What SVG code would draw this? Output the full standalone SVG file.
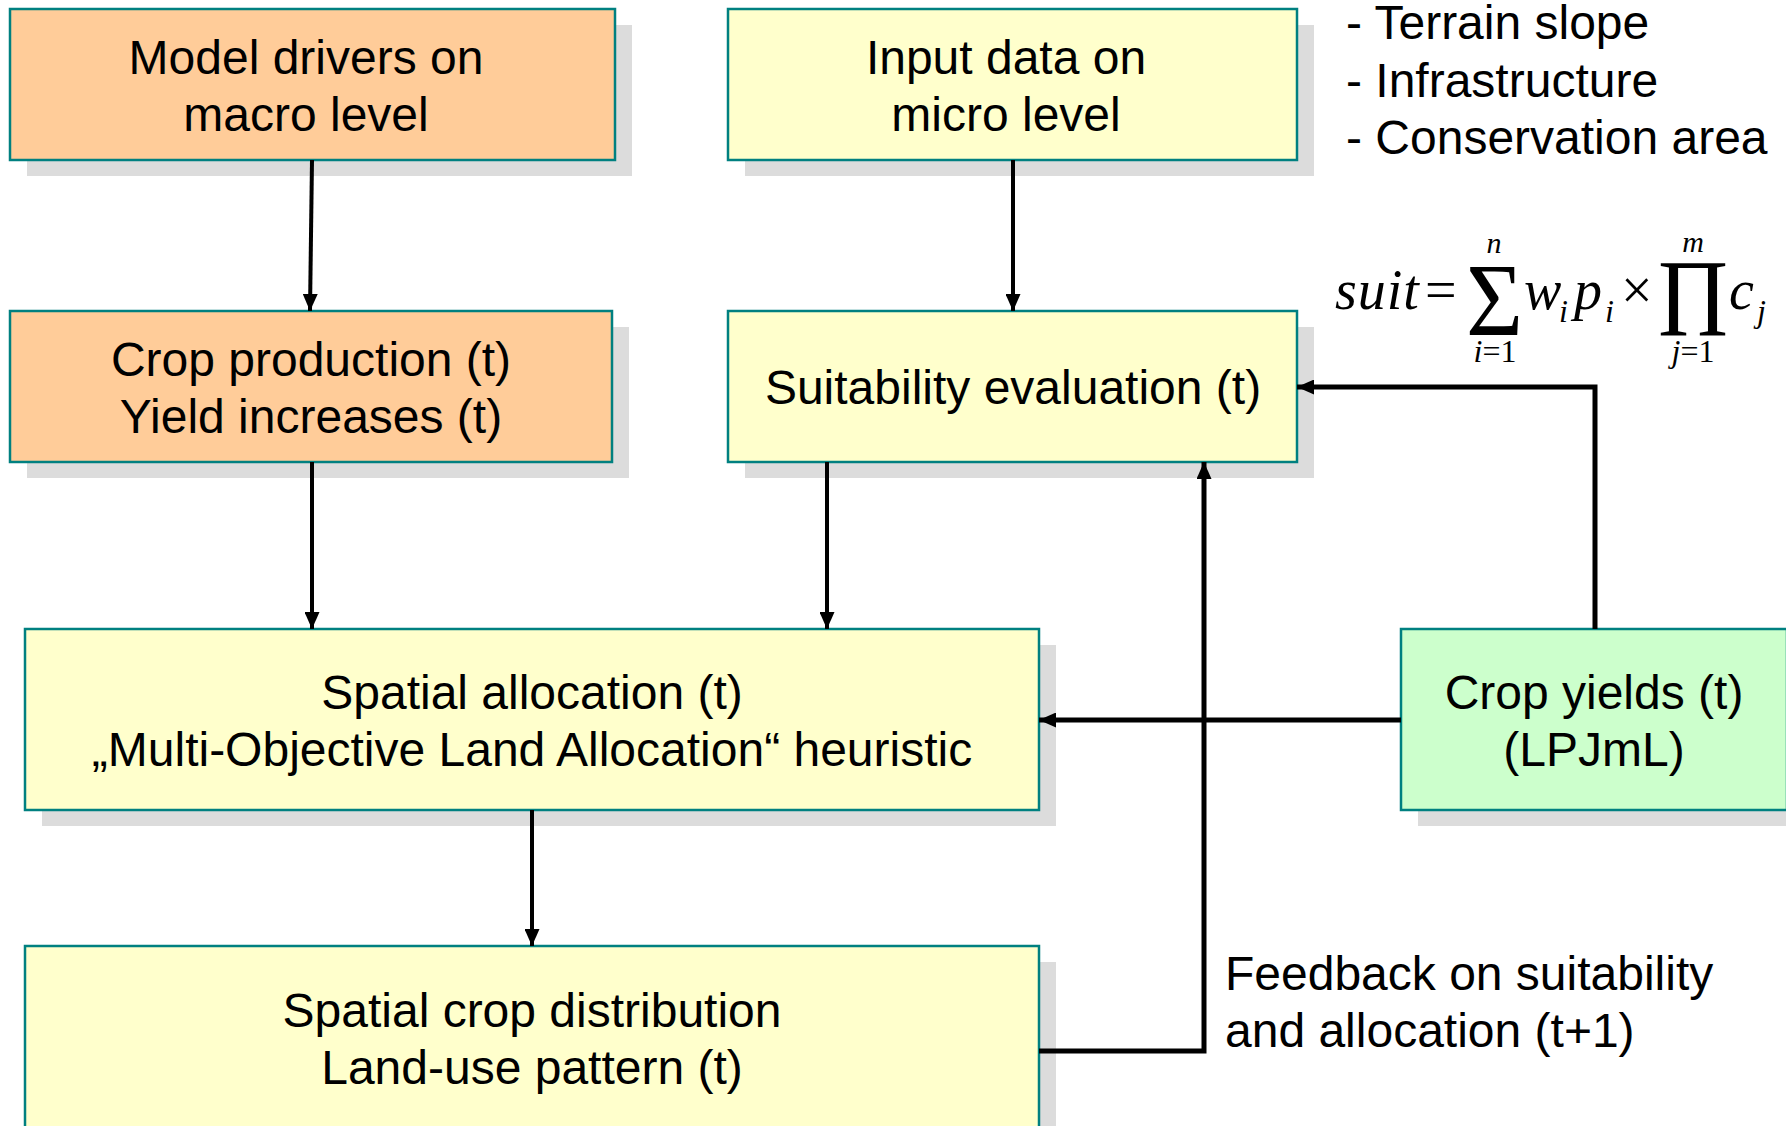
<svg xmlns="http://www.w3.org/2000/svg" width="1786" height="1126" viewBox="0 0 1786 1126">
  <style>
    .shadow { fill: #dcdcdc; }
    .box { stroke: #008080; stroke-width: 2.5; }
    .orange { fill: #ffcc99; }
    .yellow { fill: #ffffcc; }
    .green { fill: #ccffcc; }
    .label { font-family: "Liberation Sans", Arial, sans-serif; font-size: 48px; fill: #000; }
    .mid { text-anchor: middle; }
    .math { font-family: "Liberation Serif", "Times New Roman", serif; fill: #000; }
    .it { font-style: italic; }
    .conn { stroke: #000; fill: none; }
    .thin { stroke-width: 4; }
    .thick { stroke-width: 5; }
  </style>
  <defs>
    <marker id="arrow" markerUnits="userSpaceOnUse" markerWidth="17" markerHeight="15" refX="17" refY="7.5" orient="auto">
      <path d="M0,0 L17,7.5 L0,15 z" fill="#000"/>
    </marker>
  </defs>

  <rect width="1786" height="1126" fill="#fff"/>

  <!-- Model drivers on macro level -->
  <g id="macro-drivers">
    <rect class="shadow" x="27" y="25" width="605" height="151"/>
    <rect class="box orange" x="10" y="9" width="605" height="151"/>
    <text class="label mid" x="306" y="74">Model drivers on</text>
    <text class="label mid" x="306" y="131">macro level</text>
  </g>

  <!-- Input data on micro level -->
  <g id="micro-input">
    <rect class="shadow" x="745" y="25" width="569" height="151"/>
    <rect class="box yellow" x="728" y="9" width="569" height="151"/>
    <text class="label mid" x="1006" y="74">Input data on</text>
    <text class="label mid" x="1006" y="131">micro level</text>
  </g>

  <!-- Micro-level input layers -->
  <g id="input-list">
    <text class="label" x="1346" y="39">- Terrain slope</text>
    <text class="label" x="1346" y="97">- Infrastructure</text>
    <text class="label" x="1346" y="154">- Conservation area</text>
  </g>

  <!-- Suitability formula -->
  <g id="formula" class="math">
    <text class="it" x="1335" y="309" font-size="56" letter-spacing="1">suit</text>
    <text x="1425" y="309" font-size="56">=</text>
    <text transform="translate(1466,335) scale(0.98,1.04)" font-size="100">Σ</text>
    <text class="it" x="1494" y="253" font-size="30" text-anchor="middle">n</text>
    <text x="1495" y="362" font-size="32" text-anchor="middle"><tspan font-style="italic">i</tspan>=1</text>
    <text class="it" x="1524" y="309" font-size="56">w</text>
    <text class="it" x="1559" y="322" font-size="32">i</text>
    <text class="it" x="1574" y="309" font-size="56">p</text>
    <text class="it" x="1605" y="322" font-size="32">i</text>
    <text x="1621" y="309" font-size="56">×</text>
    <text transform="translate(1658,335) scale(0.97,1.1)" font-size="100">Π</text>
    <text class="it" x="1693" y="252" font-size="30" text-anchor="middle">m</text>
    <text x="1693" y="362" font-size="32" text-anchor="middle"><tspan font-style="italic">j</tspan>=1</text>
    <text class="it" x="1729" y="309" font-size="56">c</text>
    <text class="it" x="1757" y="322" font-size="32">j</text>
  </g>

  <!-- Crop production / yield increases -->
  <g id="crop-production">
    <rect class="shadow" x="27" y="327" width="602" height="151"/>
    <rect class="box orange" x="10" y="311" width="602" height="151"/>
    <text class="label mid" x="311" y="376">Crop production (t)</text>
    <text class="label mid" x="311" y="433">Yield increases (t)</text>
  </g>

  <!-- Suitability evaluation -->
  <g id="suitability">
    <rect class="shadow" x="745" y="327" width="569" height="151"/>
    <rect class="box yellow" x="728" y="311" width="569" height="151"/>
    <text class="label mid" x="1013" y="404">Suitability evaluation (t)</text>
  </g>

  <!-- Spatial allocation -->
  <g id="spatial-allocation">
    <rect class="shadow" x="42" y="645" width="1014" height="181"/>
    <rect class="box yellow" x="25" y="629" width="1014" height="181"/>
    <text class="label mid" x="532" y="709">Spatial allocation (t)</text>
    <text class="label mid" x="532" y="766">„Multi-Objective Land Allocation“ heuristic</text>
  </g>

  <!-- Crop yields from LPJmL -->
  <g id="crop-yields">
    <rect class="shadow" x="1418" y="645" width="386" height="181"/>
    <rect class="box green" x="1401" y="629" width="386" height="181"/>
    <text class="label mid" x="1594" y="709">Crop yields (t)</text>
    <text class="label mid" x="1594" y="766">(LPJmL)</text>
  </g>

  <!-- Spatial crop distribution -->
  <g id="crop-distribution">
    <rect class="shadow" x="42" y="962" width="1014" height="190"/>
    <rect class="box yellow" x="25" y="946" width="1014" height="190"/>
    <text class="label mid" x="532" y="1027">Spatial crop distribution</text>
    <text class="label mid" x="532" y="1084">Land-use pattern (t)</text>
  </g>

  <!-- Feedback label -->
  <g id="feedback-label">
    <text class="label" x="1225" y="990">Feedback on suitability</text>
    <text class="label" x="1225" y="1047">and allocation (t+1)</text>
  </g>

  <!-- Connectors -->
  <g id="connectors">
    <line class="conn thin" x1="312" y1="160" x2="310" y2="311" marker-end="url(#arrow)"/>
    <line class="conn thin" x1="1013" y1="160" x2="1013" y2="311" marker-end="url(#arrow)"/>
    <line class="conn thin" x1="312" y1="462" x2="312" y2="629" marker-end="url(#arrow)"/>
    <line class="conn thin" x1="827" y1="462" x2="827" y2="629" marker-end="url(#arrow)"/>
    <line class="conn thin" x1="532" y1="810" x2="532" y2="946" marker-end="url(#arrow)"/>
    <polyline class="conn thick" points="1595,629 1595,387 1297,387" marker-end="url(#arrow)"/>
    <line class="conn thick" x1="1401" y1="720" x2="1039" y2="720" marker-end="url(#arrow)"/>
    <polyline class="conn thick" points="1039,1051 1204,1051 1204,462" marker-end="url(#arrow)"/>
  </g>
</svg>
